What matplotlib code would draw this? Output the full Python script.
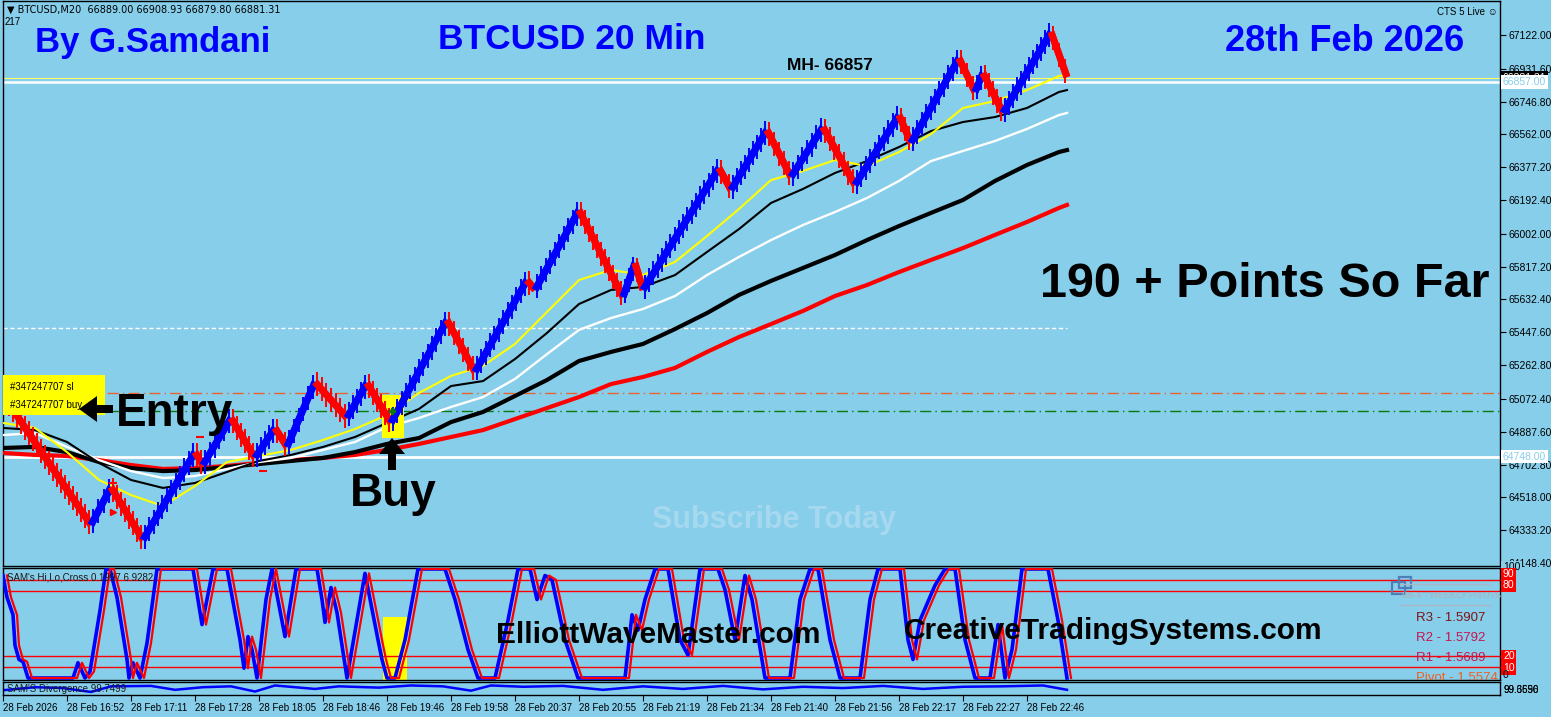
import numpy as np
import matplotlib
matplotlib.use("Agg")
import matplotlib.pyplot as plt
import matplotlib.patheffects as pe
from matplotlib.patches import Rectangle, Polygon
from matplotlib.lines import Line2D

W, H = 1551, 717
BG = "#87ceeb"
plt.rcParams["font.family"] = ["Liberation Sans", "DejaVu Sans"]

# --- price zigzag (bar index, price) ---
pivot_bar = [0, 22, 27, 35, 48, 50, 57, 63, 68, 71, 78, 86, 91, 97, 111, 118, 131, 133,
             144, 155, 158, 160, 179, 182, 191, 197, 205, 213, 224, 227, 239, 243, 245, 250, 262, 266]
pivot_price = [65094, 64362, 64576, 64278, 64773, 64700, 64965, 64740, 64909, 64802, 65168, 64965,
               65162, 64937, 65517, 65224, 65742, 65686, 66136, 65646, 65838, 65686, 66373, 66249,
               66587, 66322, 66604, 66277, 66671, 66514, 66992, 66801, 66908, 66683, 67139, 66885]

# --- moving averages sampled every 8 bars ---
ma_bar = [0, 8, 16, 24, 32, 40, 48, 56, 64, 72, 80, 88, 96, 104, 112, 120, 128, 136, 144, 152,
          160, 168, 176, 184, 192, 200, 208, 216, 224, 232, 240, 248, 256, 264, 266]
ma_yellow = [64937, 64909, 64773, 64616, 64531, 64469, 64582, 64717, 64751, 64785, 64841, 64903,
             64982, 65106, 65202, 65258, 65382, 65562, 65742, 65799, 65770, 65844, 65990, 66142,
             66305, 66356, 66418, 66384, 66463, 66564, 66711, 66750, 66812, 66891, 66897]
ma_black_fast = [64909, 64897, 64830, 64712, 64616, 64571, 64599, 64661, 64723, 64757, 64802, 64858,
                 64937, 65016, 65145, 65173, 65297, 65444, 65607, 65686, 65703, 65770, 65900, 66029,
                 66176, 66255, 66345, 66412, 66491, 66581, 66632, 66660, 66711, 66801, 66812]
ma_white = [64869, 64880, 64802, 64728, 64666, 64627, 64638, 64678, 64717, 64740, 64785, 64830,
            64914, 64965, 65027, 65083, 65185, 65325, 65461, 65528, 65579, 65652, 65770, 65872,
            65967, 66052, 66125, 66204, 66300, 66412, 66469, 66525, 66593, 66671, 66683]
ma_black_slow = [64796, 64802, 64773, 64717, 64683, 64666, 64672, 64689, 64706, 64723, 64740, 64773,
                 64819, 64852, 64942, 64999, 65089, 65179, 65286, 65337, 65382, 65466, 65556, 65658,
                 65737, 65810, 65883, 65967, 66046, 66120, 66193, 66300, 66390, 66463, 66474]
ma_red = [64768, 64757, 64751, 64728, 64700, 64678, 64683, 64695, 64712, 64728, 64740, 64757,
          64785, 64819, 64858, 64897, 64959, 65021, 65083, 65156, 65196, 65247, 65337, 65421,
          65494, 65568, 65652, 65714, 65787, 65855, 65922, 65996, 66069, 66148, 66165]

# --- horizontal levels ---
level_mh = 66857.00
level_bid = 66881.31
level_low = 64748.00
level_sl = 65104
level_buy = 65003
level_dash = 65474

price_ticks = [67122.00, 66931.60, 66746.80, 66562.00, 66377.20, 66192.40, 66002.00, 65817.20,
               65632.40, 65447.60, 65262.80, 65072.40, 64887.60, 64702.80, 64518.00, 64333.20, 64148.40]

time_ticks = [0, 16, 32, 48, 64, 80, 96, 112, 128, 144, 160, 176, 192, 208, 224, 240, 256]
time_labels = ["28 Feb 2026", "28 Feb 16:52", "28 Feb 17:11", "28 Feb 17:28", "28 Feb 18:05",
               "28 Feb 18:46", "28 Feb 19:46", "28 Feb 19:58", "28 Feb 20:37", "28 Feb 20:55",
               "28 Feb 21:19", "28 Feb 21:34", "28 Feb 21:40", "28 Feb 21:56", "28 Feb 22:17",
               "28 Feb 22:27", "28 Feb 22:46"]

# --- SAM's Hi,Lo,Cross oscillator ---
osc_bar = [0, 1, 2.5, 3, 4, 5, 6.25, 17.5, 18.75, 20.5, 21.75, 24.25, 25.75, 26.75, 28.5, 31, 31.5,
           32.5, 34.25, 36, 38.5, 47.5, 49.75, 52.5, 56, 59.25, 60.25, 61.25, 62.25, 63.5, 65.75,
           67.25, 70.5, 73.25, 78.5, 79.75, 80.5, 82, 83.5, 86, 90.5, 93.75, 94.75, 96, 98, 100.5,
           103.75, 110.5, 113, 116.25, 118.75, 123, 126.25, 128.75, 131.75, 133.5, 135.5, 137.25,
           140.5, 143.75, 155.5, 157.25, 158.75, 160.5, 163, 166.25, 169.25, 171.25, 174.25, 178.75,
           180.5, 183, 185.5, 187.25, 190.5, 196.75, 199.25, 201.75, 203.75, 206.75, 209.25, 214.25,
           216.75, 218.75, 224.25, 226.25, 227.5, 229.25, 233, 235.5, 238, 240.5, 243, 246.75,
           248.75, 250.5, 252.25, 254.75, 261.25, 263.75, 266]
osc_val = [94, 74, 58, 30, 17, 15, 0, 0, 14, 0, 6, 62, 100, 100, 74, 17, 0, 14, 0, 32, 100, 100, 49,
           100, 100, 35, 9, 38, 26, 0, 72, 100, 38, 100, 100, 72, 51, 83, 60, 0, 96, 35, 17, 0, 0, 35,
           100, 100, 72, 26, 0, 0, 53, 100, 100, 72, 94, 90, 35, 0, 0, 58, 44, 72, 100, 100, 35, 21,
           100, 100, 81, 35, 94, 72, 0, 0, 72, 100, 100, 35, 0, 0, 72, 100, 100, 35, 17, 53, 85, 100,
           100, 35, 0, 0, 49, 0, 26, 100, 100, 53, 0]
osc_levels = [90, 80, 20, 10]

# --- SAM'S Divergence ---
div_bar = [0, 8, 15, 22, 27, 37, 43, 50, 57, 63, 68, 78, 84, 94, 102, 110, 117, 122, 130, 140,
           150, 160, 170, 180, 190, 200, 210, 220, 230, 240, 250, 260, 266]
div_val = [99.47, 99.54, 99.52, 99.43, 99.56, 99.57, 99.48, 99.54, 99.56, 99.44, 99.58, 99.50,
           99.56, 99.53, 99.58, 99.56, 99.46, 99.58, 99.55, 99.57, 99.48, 99.56, 99.50, 99.57,
           99.49, 99.55, 99.52, 99.57, 99.50, 99.55, 99.56, 99.58, 99.48]

pivot_lines = ["R3 - 1.5907", "R2 - 1.5792", "R1 - 1.5689", "Pivot - 1.5574"]
pivot_colors = ["#7d1414", "#c8144c", "#c8144c", "#f06020"]


def fx(x):
    return x / W


def fy(y):
    return 1 - y / H


fig = plt.figure(figsize=(W / 100, H / 100), dpi=100, facecolor=BG)


def add_px_axes(x0, y0, x1, y1):
    a = fig.add_axes([x0 / W, 1 - y1 / H, (x1 - x0) / W, (y1 - y0) / H])
    a.set_facecolor(BG)
    for s in a.spines.values():
        s.set_color("black")
        s.set_linewidth(1.0)
    a.set_xlim(0, 374.25)
    return a


def axis_box(a, val, text, fc, tc, z=6):
    a.text(1.002, val, text, transform=a.get_yaxis_transform(), ha="left", va="center",
           fontsize=7.5, color=tc, zorder=z, clip_on=False,
           bbox=dict(boxstyle="square,pad=0.15", fc=fc, ec="none"))


def px_arrow(points, **kw):
    # polygon given in picture pixels
    fig.add_artist(Polygon([(fx(x), fy(y)) for x, y in points], closed=True,
                           transform=fig.transFigure, **kw))


# ================= main price panel =================
ax = add_px_axes(3, 1, 1500, 566)
ax.set_ylim(64131.4, 67313.5)

ax.axhline(level_low, color="white", lw=2, zorder=2)
ax.axhline(level_bid, color="#ffff66", lw=0.8, zorder=2)
ax.axhline(level_mh, color="white", lw=1.8, zorder=2)
ax.axhline(level_sl, color="#e8642c", lw=1, ls=(0, (8, 3, 1, 3)), zorder=2)
ax.axhline(level_buy, color="#0a7a0a", lw=1, ls=(0, (8, 3, 1, 3)), zorder=2)
ax.plot([0, 266], [level_dash, level_dash], color="white", lw=1, ls=(0, (3, 2)), zorder=2)

ax.plot(ma_bar, ma_red, color="#ff0000", lw=3, zorder=3)
ax.plot(ma_bar, ma_black_slow, color="black", lw=3, zorder=3)
ax.plot(ma_bar, ma_white, color="white", lw=1.7, zorder=3)
ax.plot(ma_bar, ma_black_fast, color="black", lw=1.5, zorder=3)
ax.plot(ma_bar, ma_yellow, color="#ffff00", lw=1.5, zorder=3)

# yellow highlight on the buy bar
ax.add_patch(Rectangle((94.75, 64852), 5.5, 240, fc="#ffff00", ec="none", zorder=3))

# zigzag price: blue up legs, red down legs, with vertical bar wicks
for i in range(len(pivot_bar) - 1):
    xs = pivot_bar[i:i + 2]
    ys = pivot_price[i:i + 2]
    col = "#0000ff" if ys[1] > ys[0] else "#ff0000"
    p0 = ax.transData.transform((xs[0], ys[0]))
    p1 = ax.transData.transform((xs[1], ys[1]))
    theta = np.degrees(np.arctan2(p1[1] - p0[1], p1[0] - p0[0]))
    sp_px = 4.0 / max(abs(np.cos(np.radians(theta))), 0.2)
    sp_pt = sp_px * 0.72
    ln = 12.0 / sp_px
    effects = [pe.withTickedStroke(angle=90 - theta, spacing=sp_pt, length=ln, linewidth=1.4),
               pe.withTickedStroke(angle=-90 - theta, spacing=sp_pt, length=ln, linewidth=1.4)]
    ax.plot(xs, ys, color=col, lw=5, solid_capstyle="butt", path_effects=effects, zorder=4)

# small trade marks
ax.plot([27.5, 49.25, 65], [64599, 64858, 64666], ls="none", marker="_", ms=6, mew=1.5,
        color="#ff0000", zorder=5)
ax.plot([27.5], [64435], ls="none", marker=">", ms=4, color="#ff0000", zorder=5)
ax.plot([97.25], [65004], ls="none", marker="P", ms=5, color="#0a7a0a", zorder=5)

ax.set_xticks([])
ax.yaxis.tick_right()
ax.set_yticks(price_ticks)
ax.set_yticklabels([f"{v:.2f}" for v in price_ticks])
ax.tick_params(axis="y", direction="out", length=4, width=0.8, pad=2, labelsize=7.5, colors="black")

axis_box(ax, level_bid, f"{level_bid:.2f}", "black", "white", z=6)
axis_box(ax, level_mh, f"{level_mh:.2f}", "white", BG, z=7)
axis_box(ax, level_low, f"{level_low:.2f}", "white", BG, z=7)

# ================= oscillator panel =================
ax2 = add_px_axes(3, 568, 1500, 680)
ax2.set_ylim(-1.8, 100.9)
for lv in osc_levels:
    ax2.axhline(lv, color="#ff0000", lw=1, zorder=2)
ax2.add_patch(Rectangle((95, -2), 6, 58, fc="#ffff00", ec="none", zorder=1))
ax2.plot(osc_bar, osc_val, color="#0000ff", lw=2.6, zorder=3)
# signal line trails the main line by one bar
ax2.plot(np.array(osc_bar) + 1, osc_val, color="#ff0000", lw=1.6, zorder=4)
ax2.set_xticks([])
ax2.set_yticks([])
axis_box(ax2, 101.5, "100", BG, "black")
for lv, pos in zip(osc_levels, [95, 85, 20, 9]):
    axis_box(ax2, pos, str(lv), "#ff0000", "white")
axis_box(ax2, 3, "0", "none", "black")
ax2.text(fx(7), fy(577), "SAM's Hi,Lo,Cross 0.1997 6.9282", transform=fig.transFigure,
         fontsize=7, color="#1a1a1a", va="center", ha="left", zorder=6)

# weekly pivots box (text overlay)
fig.add_artist(Line2D([fx(1400), fx(1490)], [fy(584), fy(584)], color="#a8b8c4", lw=1))
fig.add_artist(Line2D([fx(1400), fx(1490)], [fy(605), fy(605)], color="#a8b8c4", lw=1))
fig.add_artist(Rectangle((fx(1392), fy(594)), 13 / W, 12 / H, fill=False, ec="#4f7fb8", lw=1.6))
fig.add_artist(Rectangle((fx(1399), fy(588)), 12 / W, 11 / H, fill=False, ec="#4f7fb8", lw=1.6))
fig.text(fx(1402), fy(595), "IBFX - WEEKLY PIVOTS", fontsize=6.3, fontweight="bold",
         color="#a3b7c6", va="center", ha="left")
for k, (txt, col) in enumerate(zip(pivot_lines, pivot_colors)):
    t = ax2.text(fx(1416), fy(618 + 20 * k), txt, transform=fig.transFigure, fontsize=9.5,
                 color=col, va="center", ha="left", zorder=6, clip_on=True)
    t.set_clip_box(ax2.bbox)

# ================= divergence panel =================
ax3 = add_px_axes(3, 682, 1500, 695)
ax3.set_ylim(99.36, 99.66)
ax3.plot(div_bar, div_val, color="#0000ff", lw=1.8)
ax3.set_yticks([])
ax3.set_xticks(time_ticks)
ax3.set_xticklabels(time_labels)
ax3.tick_params(axis="x", direction="out", length=4, width=0.8, pad=1.5, labelsize=7, colors="black")
for lbl in ax3.get_xticklabels():
    lbl.set_ha("left")
ax3.text(fx(7), fy(689), "SAM'S Divergence 99.7499", transform=fig.transFigure,
         fontsize=7, color="#1a1a1a", va="center", ha="left")
for txt in ["99.6596", "99.3650"]:
    fig.text(fx(1503), fy(690), txt, fontsize=7, color="black", va="center", ha="left")

# ================= headline texts =================
fig.text(fx(7), fy(10), "\u25bc BTCUSD,M20  66889.00 66908.93 66879.80 66881.31", fontsize=7,
         va="center", ha="left", family=["DejaVu Sans"])
fig.text(fx(5), fy(22), "217", fontsize=7, va="center", ha="left")
fig.text(fx(1437), fy(12), "CTS 5 Live \u263a", fontsize=7, va="center", ha="left",
         family=["Liberation Sans", "DejaVu Sans"])

fig.text(fx(35), fy(52), "By G.Samdani", color="#0000ff", fontsize=25, fontweight="bold",
         va="baseline", ha="left")
fig.text(fx(438), fy(49), "BTCUSD 20 Min", color="#0000ff", fontsize=25.5, fontweight="bold",
         va="baseline", ha="left")
fig.text(fx(1225), fy(51), "28th Feb 2026", color="#0000ff", fontsize=26, fontweight="bold",
         va="baseline", ha="left")
fig.text(fx(787), fy(70), "MH- 66857", color="black", fontsize=12.5, fontweight="bold",
         va="baseline", ha="left")
fig.text(fx(1040), fy(297), "190 + Points So Far", color="black", fontsize=35, fontweight="bold",
         va="baseline", ha="left")

# trade ticket labels
fig.add_artist(Rectangle((fx(3), fy(415)), 102 / W, 40 / H, fc="#ffff00", ec="none", zorder=5))
fig.text(fx(10), fy(387), "#347247707 sl", fontsize=7, va="center", ha="left", zorder=6)
fig.text(fx(10), fy(405), "#347247707 buy", fontsize=7, va="center", ha="left", zorder=6)
px_arrow([(79, 409), (97, 396), (97, 405), (113, 405), (113, 413), (97, 413), (97, 422)],
         fc="black", ec="none", zorder=7)
fig.text(fx(116), fy(426), "Entry", color="black", fontsize=33, fontweight="bold",
         va="baseline", ha="left", zorder=7)
px_arrow([(392, 438), (405, 454), (396, 454), (396, 470), (388, 470), (388, 454), (379, 454)],
         fc="black", ec="none", zorder=7)
fig.text(fx(350), fy(506), "Buy", color="black", fontsize=33, fontweight="bold",
         va="baseline", ha="left", zorder=7)
fig.text(fx(652), fy(528), "Subscribe Today", color="#a6d8ef", fontsize=22, fontweight="bold",
         va="baseline", ha="left")
fig.text(fx(496), fy(643), "ElliottWaveMaster.com", color="black", fontsize=21.5, fontweight="bold",
         va="baseline", ha="left", zorder=7)
fig.text(fx(904), fy(639), "CreativeTradingSystems.com", color="black", fontsize=21.5,
         fontweight="bold", va="baseline", ha="left", zorder=7)

fig.savefig("out.png", dpi=100, facecolor=BG)
